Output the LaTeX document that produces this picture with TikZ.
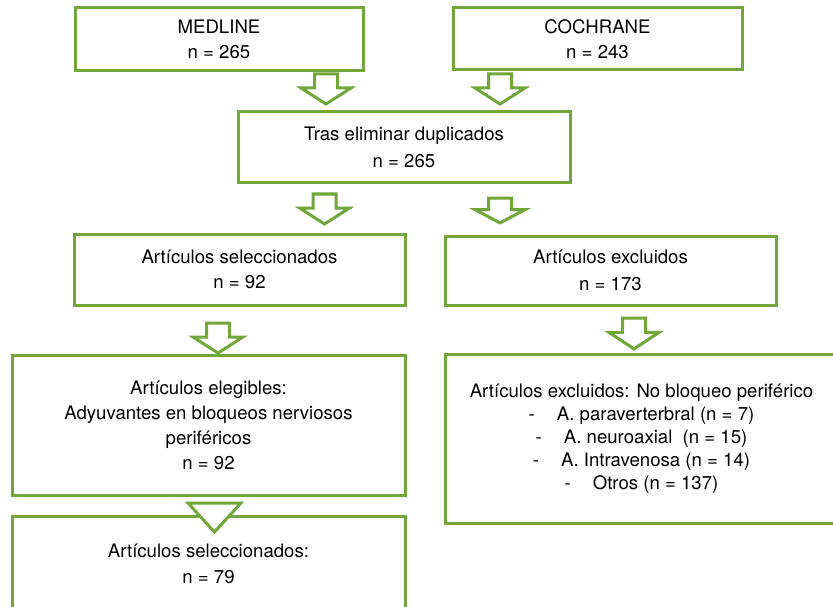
\documentclass[tikz,border=0pt]{standalone}
\usepackage{fontspec}
\setmainfont{TeX Gyre Heros}
\usetikzlibrary{calc}
\definecolor{fgreen}{RGB}{112,166,58}
\begin{document}
\begin{tikzpicture}[x=1pt,y=-1pt,
  box/.style={draw=fgreen, line width=3pt, rectangle, inner sep=0pt, align=center,
    font=\fontsize{18.6}{25}\selectfont, fill=white},
  arrowline/.style={draw=fgreen, line width=3pt, fill=white, line join=miter},
  barrow/.pic={\path[arrowline] (-11.5,0) -- (11.5,0) -- (11.5,14) -- (25,14) -- (0,30) -- (-25,14) -- (-11.5,14) -- cycle;}
]
\useasboundingbox (0,0) rectangle (833,607);

% boxes
\node[box, minimum width=288, minimum height=63] (medline) at (219,39.5) {MEDLINE\\n = 265};
\node[box, minimum width=289, minimum height=62] (cochrane) at (597.5,39) {COCHRANE\\n = 243};
\node[box, minimum width=332, minimum height=71, font=\fontsize{18.6}{27}\selectfont] (tras) at (404,147.5) {Tras eliminar duplicados\\n = 265};
\node[box, minimum width=331, minimum height=71] (sel) at (239.5,269.5) {Artículos seleccionados\\n = 92};
\node[box, minimum width=331, minimum height=69, font=\fontsize{18.6}{27}\selectfont] (exc) at (610.5,270.5) {Artículos excluidos\\n = 173};
\node[box, minimum width=393, minimum height=140] (eleg) at (208.5,425) {Artículos elegibles:\\Adyuvantes en bloqueos nerviosos\\periféricos\\n = 92};
\node[box, minimum width=393, minimum height=169, font=\fontsize{18.6}{23}\selectfont] (excbig) at (641.5,438.5)
  {Artículos excluidos: No bloqueo periférico\\
   -\hspace{22pt}A. paraverterbral (n = 7)\\
   -\hspace{22pt}A. neuroaxial\ \ (n = 15)\\
   -\hspace{22pt}A. Intravenosa (n = 14)\\
   -\hspace{22pt}Otros (n = 137)};
\node[box, minimum width=393, minimum height=96, font=\fontsize{18.6}{26}\selectfont] (final) at (208.5,564) {Artículos seleccionados:\\n = 79};

% block arrows
\coordinate (a1) at (326,74);
\coordinate (a2) at (500,74);
\coordinate (a3) at (324.5,194);
\coordinate (a4) at (500,198);
\coordinate (a5) at (218,323);
\coordinate (a6) at (634,318);
\pic at (a1) {barrow};
\pic at (a2) {barrow};
\pic at (a3) {barrow};
\pic[yscale=0.83] at (a4) {barrow};
\pic at (a5) {barrow};
\pic[yscale=1.03] at (a6) {barrow};

% triangle between eleg and final
\coordinate (t7) at (214.5,503);
\path[arrowline] ($(t7)+(-26.5,0)$) -- ($(t7)+(26.5,0)$) -- ($(t7)+(0,29)$) -- cycle;
\end{tikzpicture}
\end{document}
